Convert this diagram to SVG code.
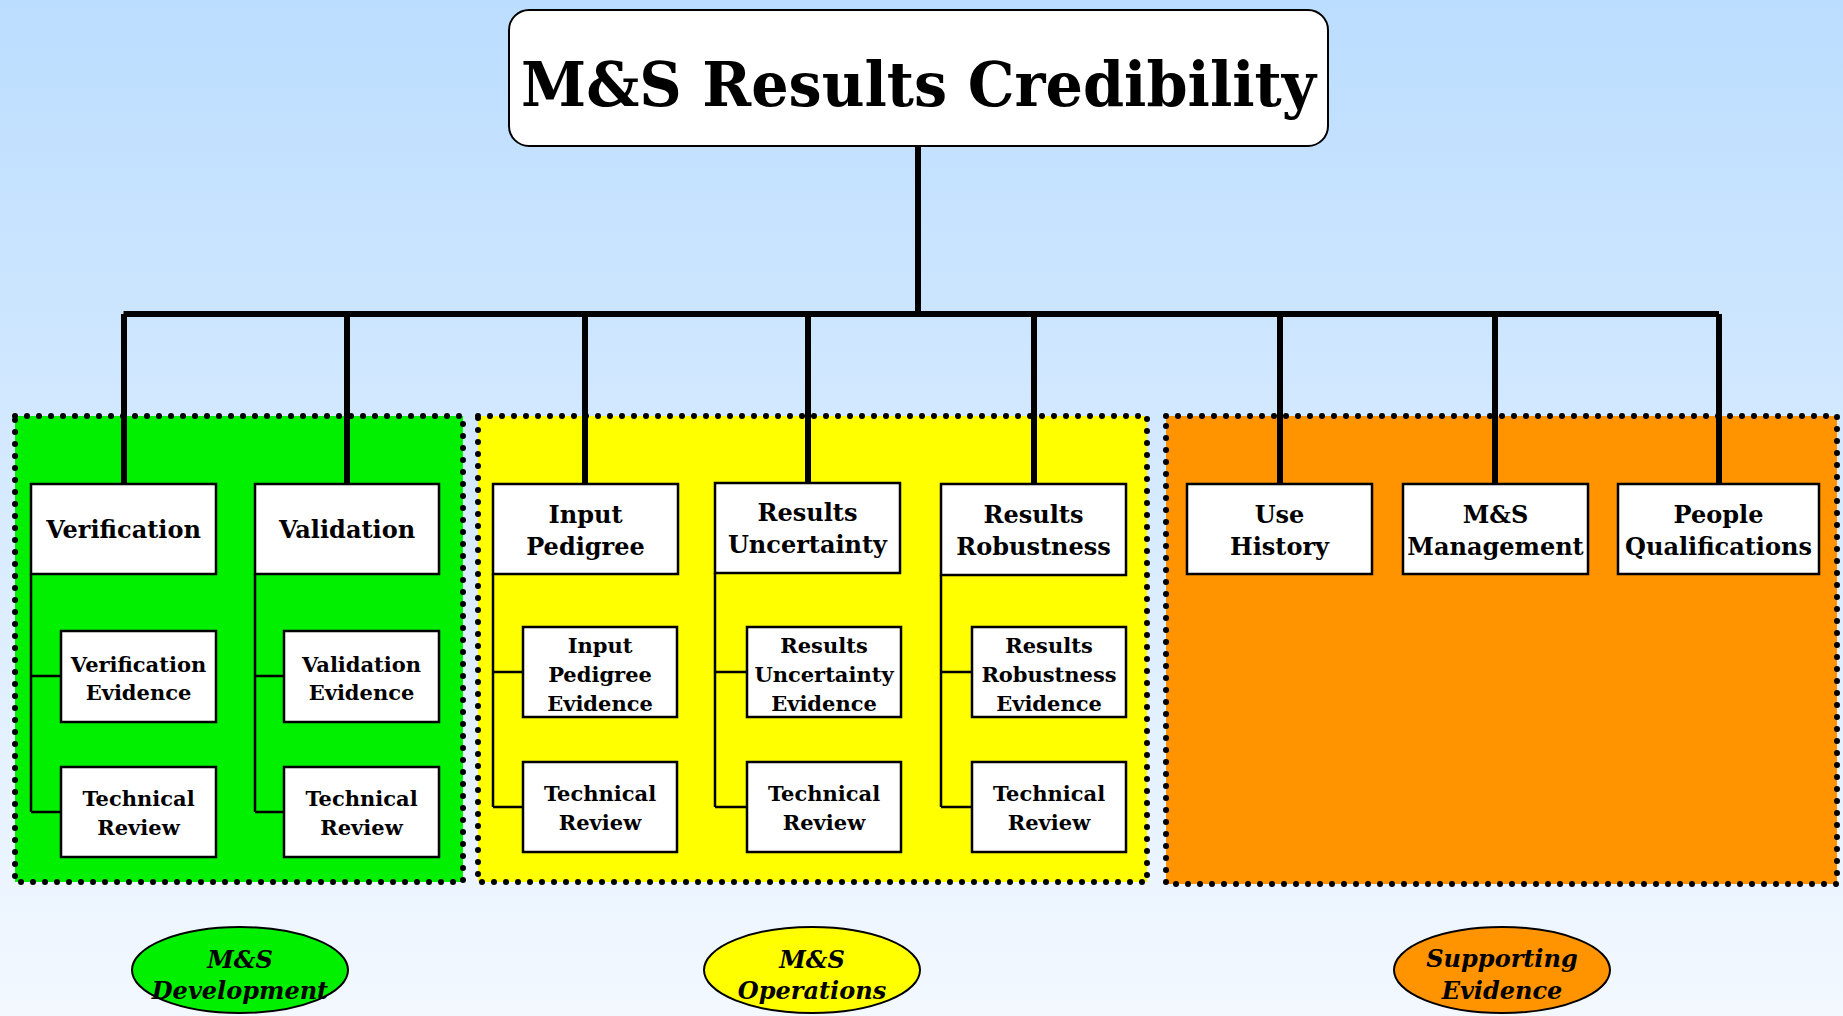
<svg xmlns="http://www.w3.org/2000/svg" width="1843" height="1016" viewBox="0 0 1843 1016">
<defs>
<linearGradient id="bg" x1="0" y1="0" x2="0" y2="1">
<stop offset="0" stop-color="#BBDDFF"/>
<stop offset="1" stop-color="#F3F8FF"/>
</linearGradient>
<style>
.zone{stroke:#000;stroke-width:6;stroke-dasharray:0 12;stroke-linecap:round}
.box{fill:#fff;stroke:#000;stroke-width:2.5}
.t{font-family:"DejaVu Serif","Liberation Serif",serif;font-weight:bold;fill:#000;text-anchor:middle}
.t1{font-size:24px}
.t2{font-size:21px}
.ti{font-family:"DejaVu Serif","Liberation Serif",serif;font-weight:bold;font-style:italic;font-size:24px;text-anchor:middle;fill:#000}
.thick{stroke:#000;stroke-width:6;fill:none}
.thin{stroke:#000;stroke-width:2.5;fill:none}
.oval{stroke:#000;stroke-width:2}
</style>
</defs>
<rect x="0" y="0" width="1843" height="1016" fill="url(#bg)"/>

<g id="zones">
<rect class="zone" x="15" y="416" width="448" height="466" fill="#00F000"/>
<rect class="zone" x="478" y="416" width="669" height="466" fill="#FFFF00"/>
<rect class="zone" x="1166" y="416" width="671" height="468" fill="#FF9400"/>
</g>

<g id="connectors">
<path class="thick" d="M918 146 V314 M123.5 314 H1719 M124 314 V484 M347 314 V484 M585 314 V484 M808 314 V483 M1034 314 V484 M1280 314 V484 M1495 314 V484 M1719 314 V484"/>
<path class="thin" d="M31 574 V812 M31 676 H61 M31 812 H61"/>
<path class="thin" d="M255 574 V812 M255 676 H284 M255 812 H284"/>
<path class="thin" d="M493 574 V807 M493 672 H523 M493 807 H523"/>
<path class="thin" d="M715 573 V807 M715 672 H747 M715 807 H747"/>
<path class="thin" d="M941 575 V807 M941 672 H972 M941 807 H972"/>
</g>

<g id="title">
<rect x="509" y="10" width="819" height="136" rx="20" fill="#fff" stroke="#000" stroke-width="2"/>
<text class="t" x="918.5" y="106" font-size="62" textLength="795" lengthAdjust="spacingAndGlyphs">M&amp;S Results Credibility</text>
</g>

<g id="verification">
<rect class="box" x="31" y="484" width="185" height="90"/>
<text class="t t1" x="123.5" y="538">Verification</text>
</g>
<g id="verification-evidence">
<rect class="box" x="61" y="631" width="155" height="91"/>
<text class="t t2" x="138.5" y="672">Verification</text>
<text class="t t2" x="138.5" y="700">Evidence</text>
</g>
<g id="verification-review">
<rect class="box" x="61" y="767" width="155" height="90"/>
<text class="t t2" x="138.5" y="806">Technical</text>
<text class="t t2" x="138.5" y="835">Review</text>
</g>

<g id="validation">
<rect class="box" x="255" y="484" width="184" height="90"/>
<text class="t t1" x="347" y="538">Validation</text>
</g>
<g id="validation-evidence">
<rect class="box" x="284" y="631" width="155" height="91"/>
<text class="t t2" x="361.5" y="672">Validation</text>
<text class="t t2" x="361.5" y="700">Evidence</text>
</g>
<g id="validation-review">
<rect class="box" x="284" y="767" width="155" height="90"/>
<text class="t t2" x="361.5" y="806">Technical</text>
<text class="t t2" x="361.5" y="835">Review</text>
</g>

<g id="input-pedigree">
<rect class="box" x="493" y="484" width="185" height="90"/>
<text class="t t1" x="585.5" y="523">Input</text>
<text class="t t1" x="585.5" y="555">Pedigree</text>
</g>
<g id="input-pedigree-evidence">
<rect class="box" x="523" y="627" width="154" height="90"/>
<text class="t t2" x="600" y="653">Input</text>
<text class="t t2" x="600" y="682">Pedigree</text>
<text class="t t2" x="600" y="711">Evidence</text>
</g>
<g id="input-pedigree-review">
<rect class="box" x="523" y="762" width="154" height="90"/>
<text class="t t2" x="600" y="801">Technical</text>
<text class="t t2" x="600" y="830">Review</text>
</g>

<g id="results-uncertainty">
<rect class="box" x="715" y="483" width="185" height="90"/>
<text class="t t1" x="807.5" y="521">Results</text>
<text class="t t1" x="807.5" y="553">Uncertainty</text>
</g>
<g id="results-uncertainty-evidence">
<rect class="box" x="747" y="627" width="154" height="90"/>
<text class="t t2" x="824" y="653">Results</text>
<text class="t t2" x="824" y="682">Uncertainty</text>
<text class="t t2" x="824" y="711">Evidence</text>
</g>
<g id="results-uncertainty-review">
<rect class="box" x="747" y="762" width="154" height="90"/>
<text class="t t2" x="824" y="801">Technical</text>
<text class="t t2" x="824" y="830">Review</text>
</g>

<g id="results-robustness">
<rect class="box" x="941" y="484" width="185" height="91"/>
<text class="t t1" x="1033.5" y="523">Results</text>
<text class="t t1" x="1033.5" y="555">Robustness</text>
</g>
<g id="results-robustness-evidence">
<rect class="box" x="972" y="627" width="154" height="90"/>
<text class="t t2" x="1049" y="653">Results</text>
<text class="t t2" x="1049" y="682">Robustness</text>
<text class="t t2" x="1049" y="711">Evidence</text>
</g>
<g id="results-robustness-review">
<rect class="box" x="972" y="762" width="154" height="90"/>
<text class="t t2" x="1049" y="801">Technical</text>
<text class="t t2" x="1049" y="830">Review</text>
</g>

<g id="use-history">
<rect class="box" x="1187" y="484" width="185" height="90"/>
<text class="t t1" x="1279.5" y="523">Use</text>
<text class="t t1" x="1279.5" y="555">History</text>
</g>
<g id="ms-management">
<rect class="box" x="1403" y="484" width="185" height="90"/>
<text class="t t1" x="1495.5" y="523">M&amp;S</text>
<text class="t t1" x="1495.5" y="555">Management</text>
</g>
<g id="people-qualifications">
<rect class="box" x="1618" y="484" width="201" height="90"/>
<text class="t t1" x="1718.5" y="523">People</text>
<text class="t t1" x="1718.5" y="555">Qualifications</text>
</g>

<g id="legend-development">
<ellipse class="oval" cx="240" cy="970" rx="108" ry="43" fill="#00F000"/>
<text class="ti" x="240" y="968">M&amp;S</text>
<text class="ti" x="240" y="999">Development</text>
</g>
<g id="legend-operations">
<ellipse class="oval" cx="812" cy="970" rx="108" ry="43" fill="#FFFF00"/>
<text class="ti" x="812" y="968">M&amp;S</text>
<text class="ti" x="812" y="999">Operations</text>
</g>
<g id="legend-supporting">
<ellipse class="oval" cx="1502" cy="970" rx="108" ry="43" fill="#FF9400"/>
<text class="ti" x="1502" y="967">Supporting</text>
<text class="ti" x="1502" y="999">Evidence</text>
</g>
</svg>
